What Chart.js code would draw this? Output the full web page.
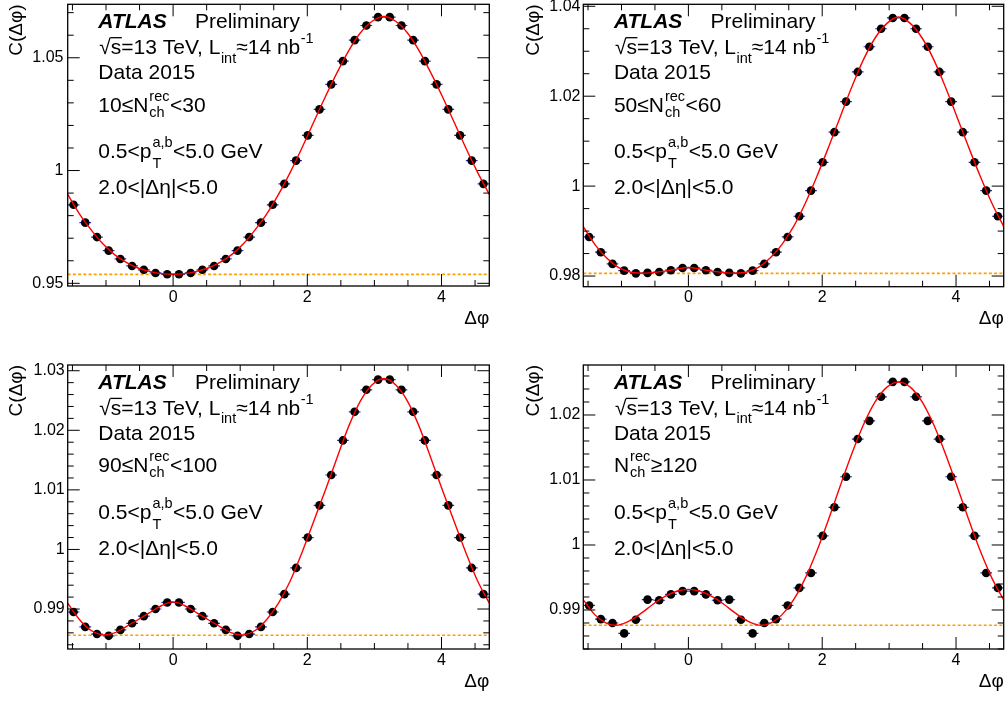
<!DOCTYPE html>
<html>
<head>
<meta charset="utf-8">
<script src="https://cdn.jsdelivr.net/npm/chart.js@4.4.1/dist/chart.umd.min.js"></script>
<style>
html,body{margin:0;padding:0;background:#fff;width:1008px;height:701px;overflow:hidden}
canvas{position:absolute;display:block}
</style>
</head>
<body>
<canvas id="c0" width="504" height="350" style="left:0;top:0"></canvas>
<canvas id="c1" width="504" height="350" style="left:504px;top:0"></canvas>
<canvas id="c2" width="504" height="351" style="left:0;top:350px"></canvas>
<canvas id="c3" width="504" height="351" style="left:504px;top:350px"></canvas>
<script>
// ---------------- data ----------------
// bin centres and bin edges of delta-phi, in degrees (-90 .. 270)
const centersDeg = [-85,-75,-65,-55,-45,-35,-25,-15,-5,5,15,25,35,45,55,65,75,85,95,105,115,125,135,145,155,165,175,185,195,205,215,225,235,245,255,265];
const edgesDeg = [-90,-80,-70,-60,-50,-40,-30,-20,-10,0,10,20,30,40,50,60,70,80,90,100,110,120,130,140,150,160,170,180,190,200,210,220,230,240,250,260,270];
const binHalfWidthDeg = 5;
const xRangeDeg = [-90, 270];

// C(dphi) data points, one array per multiplicity bin
const c10_30 = [0.9848,0.9769,0.9705,0.9645,0.9608,0.9577,0.9560,0.9546,0.9540,0.9540,0.9546,0.9560,0.9577,0.9608,0.9645,0.9705,0.9769,0.9848,0.9941,1.0044,1.0156,1.0271,1.0382,1.0485,1.0578,1.0643,1.0680,1.0680,1.0643,1.0578,1.0485,1.0382,1.0271,1.0156,1.0044,0.9941];
const c50_60 = [0.9887,0.9853,0.9827,0.9812,0.9806,0.9807,0.9809,0.9813,0.9818,0.9818,0.9813,0.9809,0.9807,0.9806,0.9812,0.9827,0.9853,0.9887,0.9933,0.9990,1.0053,1.0120,1.0188,1.0254,1.0310,1.0350,1.0374,1.0374,1.0350,1.0310,1.0254,1.0188,1.0120,1.0053,0.9990,0.9933];
const c90_100 = [0.9895,0.9870,0.9858,0.9855,0.9865,0.9876,0.9888,0.9900,0.9911,0.9911,0.9900,0.9888,0.9876,0.9865,0.9855,0.9858,0.9870,0.9895,0.9925,0.9969,1.0020,1.0074,1.0125,1.0183,1.0231,1.0268,1.0285,1.0285,1.0268,1.0231,1.0183,1.0125,1.0074,1.0020,0.9969,0.9925];
const c120 = [0.9907,0.9886,0.9880,0.9864,0.9885,0.9916,0.9915,0.9924,0.9929,0.9929,0.9924,0.9915,0.9916,0.9885,0.9864,0.9880,0.9886,0.9907,0.9934,0.9957,1.0014,1.0058,1.0105,1.0163,1.0191,1.0228,1.0251,1.0251,1.0228,1.0191,1.0163,1.0105,1.0058,1.0014,0.9957,0.9934];

// fit curve read at the bin edges
const fit10_30 = [0.9894,0.9808,0.9737,0.9675,0.9627,0.9593,0.9568,0.9553,0.9543,0.9540,0.9543,0.9553,0.9568,0.9593,0.9627,0.9675,0.9737,0.9808,0.9894,0.9992,1.0100,1.0214,1.0327,1.0434,1.0532,1.0611,1.0662,1.0683,1.0662,1.0611,1.0532,1.0434,1.0327,1.0214,1.0100,0.9992,0.9894];
const fit50_60 = [0.9910,0.9870,0.9840,0.98195,0.9809,0.98065,0.9808,0.9811,0.98155,0.9819,0.98155,0.9811,0.9808,0.98065,0.9809,0.98195,0.9840,0.9870,0.9910,0.99615,1.00215,1.00865,1.0154,1.0221,1.0282,1.0330,1.0362,1.0376,1.0362,1.0330,1.0282,1.0221,1.0154,1.00865,1.00215,0.99615,0.9910];
const fit90_100 = [0.9910,0.98825,0.9864,0.98565,0.9860,0.98705,0.9882,0.9894,0.99055,0.9912,0.99055,0.9894,0.9882,0.98705,0.9860,0.98565,0.9864,0.98825,0.9910,0.9947,0.99945,1.0047,1.00995,1.0154,1.0207,1.02495,1.02765,1.0287,1.02765,1.02495,1.0207,1.0154,1.00995,1.0047,0.99945,0.9947,0.9910];
const fit120 = [0.99156,0.98925,0.98795,0.98768,0.98835,0.98955,0.99093,0.99209,0.99289,0.99318,0.99289,0.99209,0.99093,0.98955,0.98835,0.98768,0.98795,0.98925,0.99156,0.99486,0.99906,1.00392,1.00907,1.01407,1.01853,1.02205,1.02429,1.02506,1.02429,1.02205,1.01853,1.01407,1.00907,1.00392,0.99906,0.99486,0.99156];

// baseline (dotted orange) per panel
const baselines = [0.9540, 0.9806, 0.9856, 0.98765];

// axis ranges and tick labels
const yRange10_30 = [0.94881, 1.07370];
const yRange50_60 = [0.97763, 1.04044];
const yRange90_100 = [0.98329, 1.03096];
const yRange120 = [0.98400, 1.02769];
const yTicks10_30 = [0.95, 1.0, 1.05];
const yTickLabels10_30 = ['0.95', '1', '1.05'];
const yTicks50_60 = [0.98, 1.0, 1.02, 1.04];
const yTickLabels50_60 = ['0.98', '1', '1.02', '1.04'];
const yTicks90_100 = [0.99, 1.0, 1.01, 1.02, 1.03];
const yTickLabels90_100 = ['0.99', '1', '1.01', '1.02', '1.03'];
const yTicks120 = [0.99, 1.0, 1.01, 1.02];
const yTickLabels120 = ['0.99', '1', '1.01', '1.02'];
const yMinorSteps = [0.01, 0.005, 0.002, 0.002];
const xTickValues = [0, 2, 4];
const xTickLabels = ['0', '2', '4'];
const xMinorStep = 0.5;

// texts
const nchPre = ['10≤', '50≤', '90≤', ''];
const nchPost = ['<30', '<60', '<100', '≥120'];

// ---------------- layout (canvas-local pixels) ----------------
const FONT = '"Liberation Sans", Arial, Helvetica, sans-serif';
const layouts = [
  {id:'c0', W:504, H:350, L:67.7, R:489.3, T:2.7, B:286,   ytPad:5.3,  xtPad:20.2, yLabPad:4.2, xLabPad:2.0},
  {id:'c1', W:504, H:350, L:79.3, R:501.7, T:2.7, B:286.7, ytPad:18.7, xtPad:20.2, yLabPad:2.8, xLabPad:1.4},
  {id:'c2', W:504, H:351, L:67.7, R:489.3, T:15,  B:299,   ytPad:5.3,  xtPad:7.9,  yLabPad:3.0, xLabPad:2.2},
  {id:'c3', W:504, H:351, L:79.3, R:501.7, T:15,  B:299,   ytPad:18.7, xtPad:7.9,  yLabPad:3.0, xLabPad:2.4}
];
const panelData = [
  {values:c10_30, fit:fit10_30, yRange:yRange10_30, yTicks:yTicks10_30, yLabels:yTickLabels10_30},
  {values:c50_60, fit:fit50_60, yRange:yRange50_60, yTicks:yTicks50_60, yLabels:yTickLabels50_60},
  {values:c90_100, fit:fit90_100, yRange:yRange90_100, yTicks:yTicks90_100, yLabels:yTickLabels90_100},
  {values:c120, fit:fit120, yRange:yRange120, yTicks:yTicks120, yLabels:yTickLabels120}
];

const rad = d => d * Math.PI / 180;

function seg(ctx, s, x, y, size, style) {
  ctx.font = (style ? style + ' ' : '') + size + 'px ' + FONT;
  ctx.fillText(s, x, y);
  return ctx.measureText(s).width;
}

function panelPlugin(k) {
  const pd = panelData[k];
  return {
    id: 'atlasPanel' + k,
    afterDatasetsDraw(chart) {
      const ctx = chart.ctx, a = chart.chartArea;
      const xs = chart.scales.x, ys = chart.scales.y;
      ctx.save();
      ctx.strokeStyle = '#000';
      ctx.lineWidth = 1;
      // ticks on all four sides, pointing inwards
      const majL = 12, minL = 6;
      ctx.beginPath();
      for (let v = Math.ceil(xs.min / xMinorStep) * xMinorStep; v <= xs.max + 1e-9; v += xMinorStep) {
        const isMaj = xTickValues.some(t => Math.abs(t - v) < 1e-6);
        const px = xs.getPixelForValue(v), len = isMaj ? majL : minL;
        ctx.moveTo(px, a.bottom); ctx.lineTo(px, a.bottom - len);
        ctx.moveTo(px, a.top); ctx.lineTo(px, a.top + len);
      }
      const st = yMinorSteps[k];
      for (let i = Math.ceil(ys.min / st - 1e-6); i * st <= ys.max + 1e-9; i++) {
        const v = i * st;
        const isMaj = pd.yTicks.some(t => Math.abs(t - v) < 1e-7);
        const py = ys.getPixelForValue(v), len = isMaj ? majL : minL;
        ctx.moveTo(a.left, py); ctx.lineTo(a.left + len, py);
        ctx.moveTo(a.right, py); ctx.lineTo(a.right - len, py);
      }
      ctx.stroke();
      // frame
      ctx.lineWidth = 1.3;
      ctx.strokeRect(a.left, a.top, a.right - a.left, a.bottom - a.top);

      // annotation text
      ctx.fillStyle = '#000';
      ctx.textAlign = 'left';
      ctx.textBaseline = 'alphabetic';
      const S = 21, s2 = 14.5;
      const x0 = a.left + 30.6, t = a.top;
      seg(ctx, 'ATLAS', x0, t + 24, S, 'italic bold');
      seg(ctx, 'Preliminary', x0 + 96.7, t + 24, S);
      // sqrt(s) line
      let x = x0 + 1;
      x += seg(ctx, '√', x, t + 50, S);
      const ws = seg(ctx, 's', x, t + 50, S);
      ctx.beginPath(); ctx.lineWidth = 1.3;
      ctx.moveTo(x - 0.5, t + 50 - 16.6); ctx.lineTo(x + ws + 0.5, t + 50 - 16.6); ctx.stroke();
      x += ws;
      x += seg(ctx, '=13 TeV, L', x, t + 50, S);
      x += seg(ctx, 'int', x + 0.5, t + 58.3, s2) + 0.5;
      x += seg(ctx, '≈14 nb', x, t + 50, S);
      seg(ctx, '-1', x + 0.5, t + 39, s2);
      seg(ctx, 'Data 2015', x0, t + 75, S);
      // Nch line
      x = x0;
      x += seg(ctx, nchPre[k] + 'N', x, t + 107.3, S);
      const w1 = seg(ctx, 'rec', x + 1, t + 96.3, s2);
      const w2 = seg(ctx, 'ch', x + 1, t + 112.3, s2);
      x += Math.max(w1, w2) + 1.5;
      seg(ctx, nchPost[k], x, t + 107.3, S);
      // pT line
      x = x0;
      x += seg(ctx, '0.5<p', x, t + 154, S);
      const w3 = seg(ctx, 'a,b', x + 1, t + 143, s2);
      const w4 = seg(ctx, 'T', x + 1, t + 164, s2);
      x += Math.max(w3, w4) + 1.5;
      seg(ctx, '<5.0 GeV', x, t + 154, S);
      seg(ctx, '2.0<|Δη|<5.0', x0, t + 190, S);
      ctx.restore();
    }
  };
}

function makePanel(k) {
  const lay = layouts[k], pd = panelData[k];
  const pts = pd.values.map((v, i) => ({x: rad(centersDeg[i]), y: v}));
  const fitPts = pd.fit.map((v, i) => ({x: rad(edgesDeg[i]), y: v}));
  const xMin = rad(xRangeDeg[0]), xMax = rad(xRangeDeg[1]);
  const basePts = [{x: xMin, y: baselines[k]}, {x: xMax, y: baselines[k]}];
  const halfBinPx = c => {
    const s = c.chart.scales.x;
    return Math.abs(s.getPixelForValue(rad(binHalfWidthDeg)) - s.getPixelForValue(0));
  };
  new Chart(document.getElementById(lay.id), {
    type: 'scatter',
    data: {
      datasets: [
        {label: 'Fit', type: 'line', data: fitPts, borderColor: '#ff0000', borderWidth: 1.4,
         pointRadius: 0, tension: 0.33, fill: false, order: 1},
        {label: 'Data', data: pts, pointStyle: 'circle', pointRadius: 4.3,
         pointBackgroundColor: '#000', pointBorderColor: '#000', pointBorderWidth: 0, order: 2},
        {label: 'Bin width', data: pts, pointStyle: 'line', pointRadius: halfBinPx,
         pointBorderColor: '#2b2bb8', pointBorderWidth: 1.2, order: 3},
        {label: 'Baseline', type: 'line', data: basePts, borderColor: '#ff9f00', borderWidth: 1.7,
         borderDash: [3, 2.2], pointRadius: 0, fill: false, order: 4}
      ]
    },
    options: {
      responsive: false,
      animation: false,
      events: [],
      devicePixelRatio: 1,
      layout: {padding: {left: 0, top: lay.T, right: lay.W - lay.R, bottom: 0}},
      plugins: {legend: {display: false}, tooltip: {enabled: false}},
      scales: {
        x: {
          type: 'linear', min: xMin, max: xMax, bounds: 'data',
          afterBuildTicks: s => { s.ticks = xTickValues.map(v => ({value: v})); },
          afterFit: s => { s.height = lay.H - lay.B; s.paddingLeft = 0; s.paddingRight = 0; },
          grid: {display: false, drawTicks: false},
          border: {display: false},
          ticks: {callback: (v, i) => xTickLabels[i], autoSkip: false, maxRotation: 0,
                  color: '#000', padding: lay.xLabPad, font: {family: FONT, size: 16}},
          title: {display: true, text: 'Δφ', align: 'end', color: '#000',
                  font: {family: FONT, size: 19}, padding: {top: 0, bottom: lay.xtPad}}
        },
        y: {
          type: 'linear', min: pd.yRange[0], max: pd.yRange[1], bounds: 'data',
          afterBuildTicks: s => { s.ticks = pd.yTicks.map(v => ({value: v})); },
          afterFit: s => { s.width = lay.L; s.paddingTop = 0; s.paddingBottom = 0; },
          grid: {display: false, drawTicks: false},
          border: {display: false},
          ticks: {callback: (v, i) => pd.yLabels[i], autoSkip: false,
                  color: '#000', padding: lay.yLabPad, font: {family: FONT, size: 16}},
          title: {display: true, text: 'C(Δφ)', align: 'end', color: '#000',
                  font: {family: FONT, size: 19}, padding: {top: lay.ytPad, bottom: 0}}
        }
      }
    },
    plugins: [panelPlugin(k)]
  });
}

for (let k = 0; k < 4; k++) makePanel(k);
</script>
</body>
</html>
